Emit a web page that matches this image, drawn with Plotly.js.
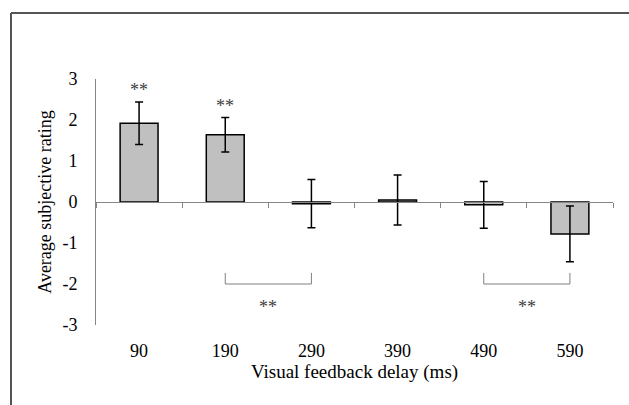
<!DOCTYPE html>
<html>
<head>
<meta charset="utf-8">
<script src="https://cdn.plot.ly/plotly-3.0.1.min.js"></script>
<style>html,body{margin:0;padding:0;background:#fff;}#chart{width:629px;height:405px;}</style>
</head>
<body>
<div id="chart"></div>
<script>
// Data
var delays = ['90', '190', '290', '390', '490', '590'];
var meanRating = [1.92, 1.64, -0.04, 0.05, -0.07, -0.78];
var errRating = [0.52, 0.42, 0.59, 0.61, 0.57, 0.68];
var yTickVals = [-3, -2, -1, 0, 1, 2, 3];
var yTickText = ['-3', '-2', '-1', '0', '1', '2', '3'];
var sigBars = ['90', '190'];          // bars marked ** above
var bracketPairs = [['190', '290'], ['490', '590']];
var bracketLevel = -2.0;
var bracketArm = 0.27;
var sigLabel = '**';

var serif = 'Times New Roman, Liberation Serif, Tinos, DejaVu Serif, serif';

var traces = [];
traces.push({
  type: 'bar',
  x: delays,
  y: meanRating,
  width: 0.44,
  marker: {color: '#c0c0c0', line: {color: '#000000', width: 1.5}},
  error_y: {type: 'data', array: errRating, visible: true, color: '#000000', thickness: 1.5, width: 4},
  hoverinfo: 'x+y',
  showlegend: false
});

// brackets
bracketPairs.forEach(function (p) {
  traces.push({
    type: 'scatter', mode: 'lines',
    x: [p[0], p[0], p[1], p[1]],
    y: [bracketLevel + bracketArm, bracketLevel, bracketLevel, bracketLevel + bracketArm],
    line: {color: '#808080', width: 1},
    hoverinfo: 'skip', showlegend: false
  });
});

// dummy trace to activate zero-line axis
traces.push({type: 'scatter', x: [null], y: [null], xaxis: 'x2', yaxis: 'y', hoverinfo: 'skip', showlegend: false});

var annotations = [];
sigBars.forEach(function (c) {
  var i = delays.indexOf(c);
  annotations.push({
    x: i, y: meanRating[i] + errRating[i], xref: 'x', yref: 'y',
    text: sigLabel, showarrow: false, yanchor: 'bottom', yshift: 0,
    font: {family: serif, size: 18, color: '#404040'}
  });
});
bracketPairs.forEach(function (p) {
  var mid = (delays.indexOf(p[0]) + delays.indexOf(p[1])) / 2;
  annotations.push({
    x: mid, y: bracketLevel - 0.55, xref: 'x', yref: 'y',
    text: sigLabel, showarrow: false, yanchor: 'middle',
    font: {family: serif, size: 18, color: '#404040'}
  });
});

var boundaries = [];
for (var k = 0; k <= delays.length; k++) boundaries.push(k - 0.5);

var layout = {
  width: 629, height: 405,
  margin: {l: 96, r: 16, t: 79, b: 80},
  paper_bgcolor: '#ffffff', plot_bgcolor: '#ffffff',
  font: {family: serif, size: 18, color: '#000000'},
  xaxis: {
    type: 'category', categoryorder: 'array', categoryarray: delays,
    range: [-0.5, delays.length - 0.5],
    showline: false, showgrid: false, zeroline: false,
    ticks: 'outside', ticklen: 9, tickcolor: 'rgba(0,0,0,0)',
    tickfont: {family: serif, size: 18, color: '#000000'},
    title: {text: 'Visual feedback delay (ms)', font: {family: serif, size: 19, color: '#000000'}, standoff: 2},
    fixedrange: true
  },
  xaxis2: {
    overlaying: 'x', anchor: 'free', position: 0.5, side: 'bottom',
    range: [-0.5, delays.length - 0.5],
    tickmode: 'array', tickvals: boundaries, ticktext: boundaries.map(function () { return ''; }),
    showticklabels: false,
    ticks: 'outside', ticklen: 5, tickwidth: 1, tickcolor: '#868686',
    showline: true, linecolor: '#868686', linewidth: 1,
    showgrid: false, zeroline: false, fixedrange: true
  },
  yaxis: {
    range: [-3, 3], tickmode: 'array', tickvals: yTickVals, ticktext: yTickText,
    showline: true, linecolor: '#868686', linewidth: 1,
    showgrid: false, zeroline: false,
    ticks: 'outside', ticklen: 14, tickcolor: 'rgba(0,0,0,0)',
    tickfont: {family: serif, size: 18, color: '#000000'},
    title: {text: 'Average subjective rating', font: {family: serif, size: 18, color: '#000000'}, standoff: 6},
    fixedrange: true
  },
  shapes: [
    {type: 'line', xref: 'paper', yref: 'paper', x0: -85 / 517, x1: 533 / 517, y0: 312 / 246, y1: 312 / 246, line: {color: '#555555', width: 2}},
    {type: 'line', xref: 'paper', yref: 'paper', x0: -85 / 517, x1: -85 / 517, y0: 312 / 246, y1: -80 / 246, line: {color: '#555555', width: 2}}
  ],
  annotations: annotations,
  showlegend: false
};

Plotly.newPlot('chart', traces, layout, {displayModeBar: false, staticPlot: true});
</script>
</body>
</html>
